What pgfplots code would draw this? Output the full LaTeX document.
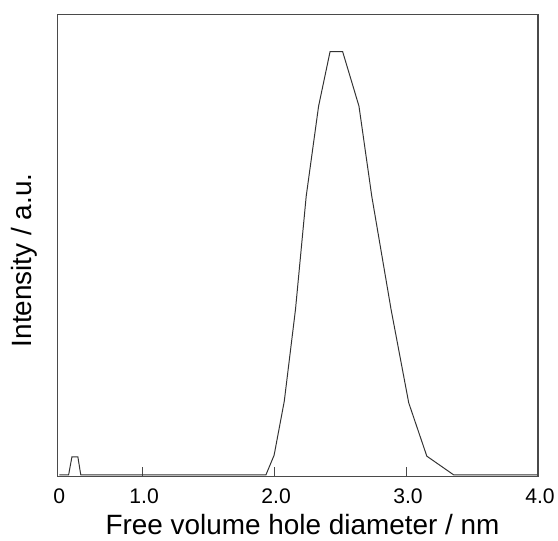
\documentclass[border=0pt]{standalone}
\usepackage{fontspec}
\setmainfont{Liberation Sans}
\usepackage{pgfplots}
\pgfplotsset{compat=1.18}
\definecolor{framegray}{HTML}{4A4A4A}
\definecolor{linegray}{HTML}{333333}

\begin{document}
\begin{tikzpicture}
\begin{axis}[
    at={(0,0)}, anchor=south west,
    scale only axis,
    width=489.4pt, height=470pt,
    xmin=0.357, xmax=4,
    ymin=-0.39, ymax=108.7,
    axis line style={framegray, line width=1.3pt},
    xtick={0.357,1,2,3,4},
    xticklabels={0,1.0,2.0,3.0,4.0},
    xtick pos=bottom,
    tick align=inside,
    major tick length=10pt,
    ytick=\empty,
    tick style={framegray, line width=1pt},
    xticklabel style={font=\fontsize{21.5}{25}\selectfont, anchor=center, yshift=-20pt, xshift=2pt},
    /pgf/number format/assume math mode=true,
    xlabel={Free volume hole diameter / nm},
    ylabel={Intensity / a.u.},
    label style={font=\fontsize{28.4}{32}\selectfont},
    xlabel style={at={(axis description cs:0.5,0)}, anchor=center, yshift=-49pt, xshift=5pt},
    ylabel style={at={(axis description cs:-0.0695,0.468)}, anchor=center},
]
% intensity scaled so that the main peak is 100
\addplot[linegray, line width=1pt, mark=none] coordinates {
    (0.372,0) (0.443,0) (0.468,4.25) (0.513,4.25) (0.535,0)
    (1.938,0) (2.000,4.64) (2.077,17.4) (2.162,39.1) (2.243,65.8)
    (2.337,87.1) (2.424,100) (2.519,100) (2.643,87.1) (2.740,65.8)
    (2.886,39.1) (3.020,17.0) (3.157,4.41) (3.360,0) (3.993,0)
};
\end{axis}
\useasboundingbox (-58.3pt,-65pt) rectangle (499.7pt,485pt);
\end{tikzpicture}
\end{document}
